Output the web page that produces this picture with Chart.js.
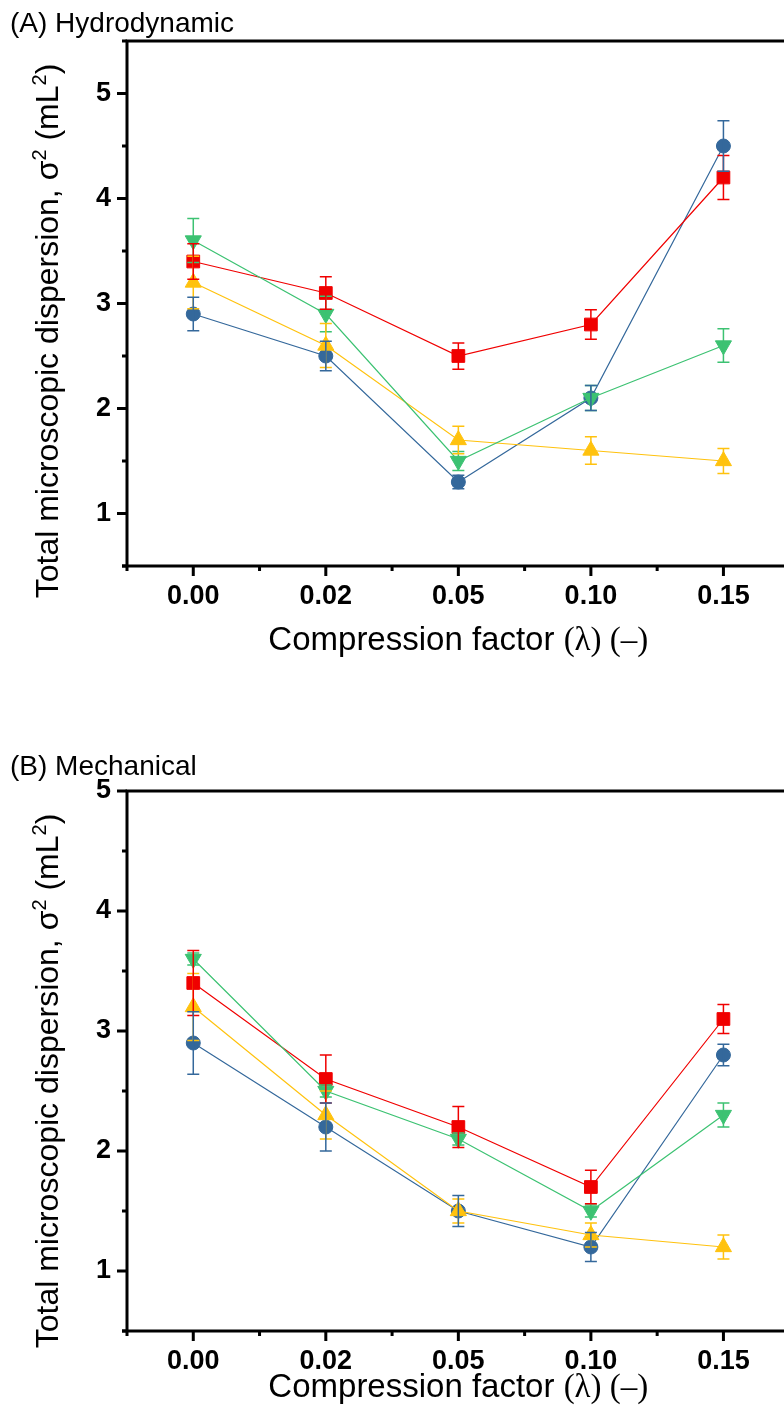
<!DOCTYPE html>
<html>
<head>
<meta charset="utf-8">
<script src="https://cdn.jsdelivr.net/npm/chart.js@4.4.0/dist/chart.umd.min.js"></script>
<style>
  html, body { margin: 0; padding: 0; background: #fff; }
  body { width: 784px; height: 1421px; overflow: hidden; position: relative; }
  canvas { position: absolute; left: 0; }
  #panelA { top: 0; }
  #panelB { top: 710px; }
</style>
</head>
<body>
<canvas id="panelA" width="800" height="710" style="width:800px;height:710px"></canvas>
<canvas id="panelB" width="800" height="711" style="width:800px;height:711px"></canvas>
<script>
// Compression factor categories and y tick values
const categories = ['0.00', '0.02', '0.05', '0.10', '0.15'];
const yTickValues = [1, 2, 3, 4, 5];

// (A) Hydrodynamic: mean dispersion and error
const hydroCircle = [2.9, 2.5, 1.3, 2.1, 4.5];
const hydroCircleErr = [0.16, 0.14, 0.065, 0.12, 0.24];
const hydroSquare = [3.4, 3.1, 2.5, 2.8, 4.2];
const hydroSquareErr = [0.17, 0.155, 0.125, 0.14, 0.21];
const hydroUp = [3.2, 2.6, 1.7, 1.6, 1.5];
const hydroUpErr = [0.25, 0.21, 0.13, 0.13, 0.12];
const hydroDown = [3.6, 2.9, 1.5, 2.1, 2.6];
const hydroDownErr = [0.21, 0.17, 0.09, 0.12, 0.16];

// (B) Mechanical: mean dispersion and error
const mechCircle = [2.9, 2.2, 1.5, 1.2, 2.8];
const mechCircleErr = [0.26, 0.2, 0.13, 0.12, 0.09];
const mechSquare = [3.4, 2.6, 2.2, 1.7, 3.1];
const mechSquareErr = [0.27, 0.2, 0.17, 0.14, 0.12];
const mechUp = [3.2, 2.3, 1.5, 1.3, 1.2];
const mechUpErr = [0.28, 0.2, 0.1, 0.1, 0.1];
const mechDown = [3.6, 2.5, 2.1, 1.5, 2.3];
const mechDownErr = [0.05, 0.05, 0.05, 0.05, 0.1];

const SANS = "'Liberation Sans', Arial, Helvetica, sans-serif";
const SERIF = "'Liberation Serif', 'Times New Roman', serif";

const COLORS = { circle: '#34689B', square: '#F00000', up: '#FFC20E', down: '#3CC272' };

function seriesSet(circle, circleErr, square, squareErr, up, upErr, down, downErr) {
  const common = { borderWidth: 1.2, tension: 0, fill: false, pointBorderWidth: 1 };
  return [
    Object.assign({ label: 'circle', data: circle, errors: circleErr, pointStyle: 'circle', pointRadius: 7, pointRotation: 0, order: 4,
      borderColor: COLORS.circle, backgroundColor: COLORS.circle, pointBackgroundColor: COLORS.circle, pointBorderColor: COLORS.circle }, common),
    Object.assign({ label: 'square', data: square, errors: squareErr, pointStyle: 'rect', pointRadius: 9, pointRotation: 0, order: 3,
      borderColor: COLORS.square, backgroundColor: COLORS.square, pointBackgroundColor: COLORS.square, pointBorderColor: COLORS.square }, common),
    Object.assign({ label: 'up', data: up, errors: upErr, pointStyle: 'triangle', pointRadius: 9.3, pointRotation: 0, order: 2,
      borderColor: COLORS.up, backgroundColor: COLORS.up, pointBackgroundColor: COLORS.up, pointBorderColor: COLORS.up }, common),
    Object.assign({ label: 'down', data: down, errors: downErr, pointStyle: 'triangle', pointRadius: 9.3, pointRotation: 180, order: 1,
      borderColor: COLORS.down, backgroundColor: COLORS.down, pointBackgroundColor: COLORS.down, pointBorderColor: COLORS.down }, common)
  ];
}

// Text made of runs (superscripts, serif parts), centred on (cx, baseline)
function drawRich(ctx, parts, cx, cy, rotate, size) {
  ctx.save();
  ctx.translate(cx, cy);
  if (rotate) ctx.rotate(-Math.PI / 2);
  const fontOf = p => `${p.sup ? Math.round(size * 0.62) : size}px ${p.serif ? SERIF : SANS}`;
  let total = 0;
  parts.forEach(p => { ctx.font = fontOf(p); p.w = ctx.measureText(p.text).width; total += p.w; });
  let x = -total / 2;
  ctx.textBaseline = 'alphabetic';
  ctx.textAlign = 'left';
  ctx.fillStyle = '#000';
  parts.forEach(p => {
    ctx.font = fontOf(p);
    ctx.fillText(p.text, x, p.sup ? -size * 0.36 : 0);
    x += p.w;
  });
  ctx.restore();
}

const panelDecor = {
  id: 'panelDecor',
  afterDatasetsDraw(chart, args, opts) {
    const ctx = chart.ctx;
    const xs = chart.scales.x, ys = chart.scales.y, area = chart.chartArea;

    // error bars, in drawing order
    const metas = chart.getSortedVisibleDatasetMetas();
    metas.forEach(meta => {
      const ds = chart.data.datasets[meta.index];
      ctx.save();
      ctx.strokeStyle = ds.borderColor;
      ctx.lineWidth = 1.5;
      meta.data.forEach((pt, i) => {
        const v = ds.data[i], e = ds.errors[i];
        const yTop = ys.getPixelForValue(v + e), yBot = ys.getPixelForValue(v - e);
        const px = pt.x;
        ctx.beginPath();
        ctx.moveTo(px, yTop); ctx.lineTo(px, yBot);
        ctx.moveTo(px - 6, yTop); ctx.lineTo(px + 6, yTop);
        ctx.moveTo(px - 6, yBot); ctx.lineTo(px + 6, yBot);
        ctx.stroke();
      });
      ctx.restore();
    });

    // frame: left, top and bottom axes
    ctx.save();
    ctx.strokeStyle = '#000';
    ctx.lineWidth = 3;
    ctx.beginPath();
    ctx.moveTo(area.left - 1.5, area.top); ctx.lineTo(chart.width, area.top);
    ctx.moveTo(area.left - 5, area.bottom); ctx.lineTo(chart.width, area.bottom);
    ctx.moveTo(area.left, area.top - 1.5); ctx.lineTo(area.left, area.bottom + 1.5);
    ctx.stroke();

    // x tick marks: major at categories, minor between them
    ctx.beginPath();
    for (let i = 0; i < categories.length; i++) {
      const px = xs.getPixelForValue(i);
      ctx.moveTo(px, area.bottom); ctx.lineTo(px, area.bottom + 10);
    }
    for (let i = 0; i <= categories.length; i++) {
      const px = xs.getPixelForValue(i - 0.5);
      ctx.moveTo(px, area.bottom); ctx.lineTo(px, area.bottom + 5);
    }
    // y tick marks: major at integers, minor at halves
    for (let v = ys.min; v <= ys.max + 1e-9; v += 0.5) {
      const py = ys.getPixelForValue(v);
      const len = Math.abs(v - Math.round(v)) < 1e-9 ? 10 : 5;
      ctx.moveTo(area.left, py); ctx.lineTo(area.left - len, py);
    }
    ctx.stroke();
    ctx.restore();

    // panel title
    ctx.save();
    ctx.fillStyle = '#000';
    ctx.font = `28px ${SANS}`;
    ctx.textBaseline = 'alphabetic';
    ctx.textAlign = 'left';
    ctx.fillText(opts.title, 10, opts.titleBaseline);
    ctx.restore();

    // axis titles
    const mid = (area.left + area.right) / 2;
    drawRich(ctx, [{ text: 'Compression factor ' }, { text: '(\u03bb) (\u2013)', serif: true }], mid, opts.xTitleBaseline, false, 33);
    drawRich(ctx, [
      { text: 'Total microscopic dispersion, \u03c3' }, { text: '2', sup: true },
      { text: ' (mL' }, { text: '2', sup: true }, { text: ')' }
    ], opts.yTitleBaseline, opts.yTitleCenter, true, 32);
  }
};

function makeChart(id, datasets, yMax, padTop, xHeight, decor) {
  const tickFont = { family: SANS, size: 27, weight: 'bold' };
  return new Chart(document.getElementById(id), {
    type: 'line',
    data: { labels: categories, datasets },
    options: {
      responsive: false,
      animation: false,
      devicePixelRatio: 1,
      layout: { padding: { top: padTop, right: 5.5, left: 0, bottom: 0 } },
      plugins: { legend: { display: false }, tooltip: { enabled: false }, panelDecor: decor },
      scales: {
        x: {
          type: 'category', offset: true,
          grid: { display: false, drawTicks: false }, border: { display: false },
          ticks: { font: tickFont, color: '#000', padding: 14, autoSkip: false, maxRotation: 0 },
          afterFit(s) { s.height = xHeight; }
        },
        y: {
          type: 'linear', min: 0.5, max: yMax,
          grid: { display: false, drawTicks: false }, border: { display: false },
          ticks: { font: tickFont, color: '#000', padding: 16 },
          afterBuildTicks(s) { s.ticks = yTickValues.map(v => ({ value: v })); },
          afterFit(s) { s.width = 127; }
        }
      }
    },
    plugins: [panelDecor]
  });
}

makeChart('panelA',
  seriesSet(hydroCircle, hydroCircleErr, hydroSquare, hydroSquareErr, hydroUp, hydroUpErr, hydroDown, hydroDownErr),
  5.5, 41, 144,
  { title: '(A) Hydrodynamic', titleBaseline: 32, xTitleBaseline: 650, yTitleBaseline: 58, yTitleCenter: 331 });

makeChart('panelB',
  seriesSet(mechCircle, mechCircleErr, mechSquare, mechSquareErr, mechUp, mechUpErr, mechDown, mechDownErr),
  5.0, 81, 90,
  { title: '(B) Mechanical', titleBaseline: 65, xTitleBaseline: 687, yTitleBaseline: 58, yTitleCenter: 371 });
</script>
</body>
</html>
